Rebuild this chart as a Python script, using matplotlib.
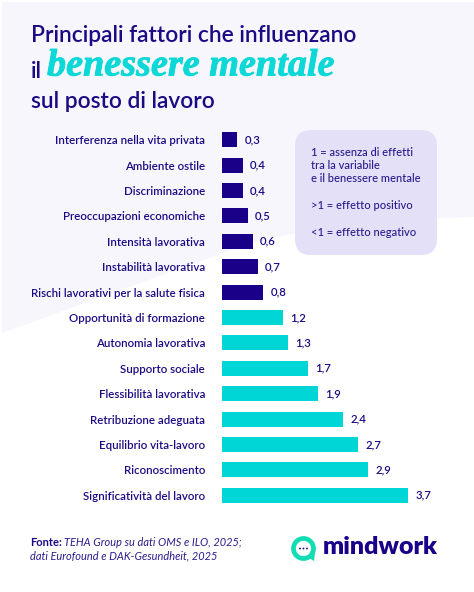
import matplotlib
matplotlib.use("Agg")
import matplotlib.pyplot as plt
import matplotlib.patheffects as pe
from matplotlib.patches import FancyBboxPatch, PathPatch, Circle, Polygon
from matplotlib.path import Path

# Dati del grafico
fattori = [
    "Interferenza nella vita privata", "Ambiente ostile", "Discriminazione",
    "Preoccupazioni economiche", "Intensità lavorativa", "Instabilità lavorativa",
    "Rischi lavorativi per la salute fisica", "Opportunità di formazione",
    "Autonomia lavorativa", "Supporto sociale", "Flessibilità lavorativa",
    "Retribuzione adeguata", "Equilibrio vita-lavoro", "Riconoscimento",
    "Significatività del lavoro",
]
valori = [0.3, 0.4, 0.4, 0.5, 0.6, 0.7, 0.8, 1.2, 1.3, 1.7, 1.9, 2.4, 2.7, 2.9, 3.7]

note = ["1 = assenza di effetti", "tra la variabile", "e il benessere mentale",
        ">1 = effetto positivo", "<1 = effetto negativo"]

NAVY = "#1b0a84"
BLU = "#1a0088"
TEAL = "#00d6d6"
W, H = 474, 592

fig = plt.figure(figsize=(W / 100, H / 100), dpi=100, facecolor="white")

# Livello di sfondo in coordinate pixel
bg = fig.add_axes([0, 0, 1, 1], zorder=0)
bg.set_xlim(0, W)
bg.set_ylim(H, 0)
bg.axis("off")

verts = [(2, 2), (474, 2), (474, 217), (320, 221), (240, 247), (2, 333), (2, 2)]
codes = [Path.MOVETO, Path.LINETO, Path.LINETO, Path.CURVE3, Path.CURVE3, Path.LINETO, Path.CLOSEPOLY]
bg.add_patch(PathPatch(Path(verts, codes), fc="#f7f6fd", ec="none"))

# Titolo
bg.text(31, 36, "Principali fattori che influenzano", color=NAVY, fontsize=16.4,
        family="Lato", weight="semibold", va="center")
bg.text(31, 71, "il", color=NAVY, fontsize=16.4, family="Lato", weight="semibold", va="center")
bg.text(47, 66, "benessere mentale", color="#0dd8d8", fontsize=27.5, family="Liberation Serif",
        style="italic", weight="bold", va="center",
        path_effects=[pe.withStroke(linewidth=0.6, foreground="#0dd8d8")])
bg.text(31, 101, "sul posto di lavoro", color=NAVY, fontsize=16.4,
        family="Lato", weight="semibold", va="center")

# Riquadro con la legenda
bg.add_patch(FancyBboxPatch((310, 145), 112, 95, boxstyle="round,pad=15,rounding_size=16",
                            fc="#e3e0f8", ec="none"))
for testo, y in zip(note, [152.5, 165.5, 178, 205.5, 233]):
    bg.text(311, y, testo, color="#2a1c8c", fontsize=8.0, family="Lato", weight="medium", va="center")

# Fonte
bg.text(30, 542, "Fonte:", color=NAVY, fontsize=8, family="Lato", weight="bold", va="center")
bg.text(64, 542, "TEHA Group su dati OMS e ILO, 2025;", color="#2a1c8c", fontsize=7.9,
        family="Lato", style="italic", va="center")
bg.text(30, 556, "dati Eurofound e DAK-Gesundheit, 2025", color="#2a1c8c", fontsize=7.9,
        family="Lato", style="italic", va="center")

# Logo
bg.add_patch(Circle((303.5, 548.5), 10, fc="none", ec="#12dcb4", lw=3.4))
bg.add_patch(Polygon([(306, 556), (315, 553), (314, 561)], fc="#12dcb4", ec="none"))
for dx in (-3.5, 0, 3.5):
    bg.add_patch(Circle((303.5 + dx, 548.5), 0.9, fc=BLU, ec="none"))
bg.text(323, 547, "mindwork", color=BLU, fontsize=18, family="Lato", weight="heavy", va="center")

# Barre orizzontali
x0, x1 = 222.4, 470
top, bottom = 127, 508
ax = fig.add_axes([x0 / W, 1 - bottom / H, (x1 - x0) / W, (bottom - top) / H], zorder=1)
ax.patch.set_alpha(0)
scala = 186 / 3.7
posizioni = list(range(len(fattori)))
colori = [BLU if v < 1 else TEAL for v in valori]
ax.barh(posizioni, valori, height=0.59, color=colori)
ax.set_xlim(0, (x1 - x0) / scala)
ax.set_ylim(14 + (bottom - 495.3) / 25.4, -(139.7 - top) / 25.4)
ax.set_yticks(posizioni, fattori, color=NAVY, fontsize=8.25, family="Lato", weight="semibold")
ax.tick_params(axis="y", length=0, pad=12.5)
ax.set_xticks([])
for s in ax.spines.values():
    s.set_visible(False)

for p, v in zip(posizioni, valori):
    ax.annotate(f"{v:.1f}".replace(".", ","), (v, p), xytext=(5.5, 0), textcoords="offset points",
                color=NAVY, fontsize=8.2, family="Lato", weight="semibold", va="center")

fig.savefig("out.png", dpi=100)
